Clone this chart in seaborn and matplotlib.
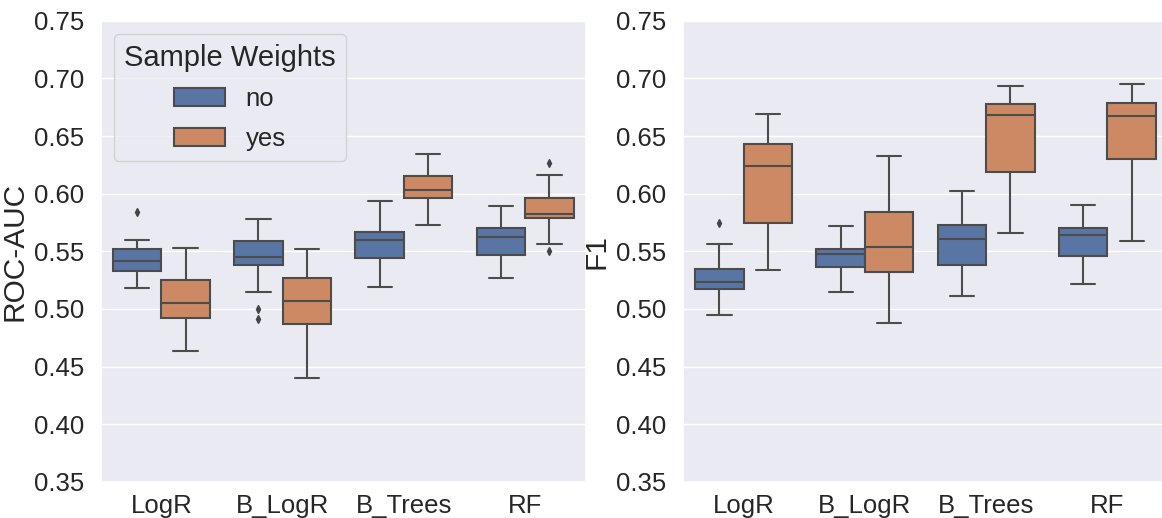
import pandas as pd
import seaborn as sns
import numpy as np
from matplotlib import pyplot as plt
from matplotlib.ticker import MultipleLocator, FormatStrFormatter

#---data (box stats: whiskers, quartiles, median, fliers)
models = ["LogR", "B_LogR", "B_Trees", "RF"]
weights = ["no", "yes"]

# ROC-AUC
roc_logr_no = [0.518, 0.527, 0.533, 0.538, 0.542, 0.547, 0.552, 0.560, 0.584]
roc_logr_yes = [0.464, 0.480, 0.492, 0.498, 0.505, 0.515, 0.525, 0.540, 0.553]
roc_blogr_no = [0.491, 0.500, 0.515, 0.538, 0.540, 0.542, 0.545, 0.550, 0.555,
                0.559, 0.565, 0.572, 0.578]
roc_blogr_yes = [0.440, 0.470, 0.487, 0.497, 0.507, 0.517, 0.527, 0.540, 0.552]
roc_btrees_no = [0.519, 0.532, 0.544, 0.552, 0.560, 0.564, 0.567, 0.580, 0.594]
roc_btrees_yes = [0.573, 0.585, 0.596, 0.600, 0.603, 0.609, 0.615, 0.625, 0.634]
roc_rf_no = [0.527, 0.537, 0.547, 0.555, 0.562, 0.566, 0.570, 0.580, 0.589]
roc_rf_yes = [0.550, 0.556, 0.579, 0.580, 0.582, 0.589, 0.596, 0.616, 0.627]

# F1
f1_logr_no = [0.495, 0.506, 0.517, 0.520, 0.523, 0.529, 0.535, 0.556, 0.575]
f1_logr_yes = [0.534, 0.555, 0.575, 0.600, 0.624, 0.634, 0.643, 0.656, 0.669]
f1_blogr_no = [0.515, 0.526, 0.536, 0.542, 0.548, 0.550, 0.552, 0.562, 0.572]
f1_blogr_yes = [0.488, 0.510, 0.532, 0.543, 0.554, 0.569, 0.584, 0.608, 0.633]
f1_btrees_no = [0.511, 0.525, 0.538, 0.550, 0.561, 0.567, 0.573, 0.588, 0.602]
f1_btrees_yes = [0.566, 0.592, 0.619, 0.645, 0.668, 0.673, 0.678, 0.686, 0.693]
f1_rf_no = [0.522, 0.534, 0.546, 0.555, 0.564, 0.567, 0.570, 0.580, 0.590]
f1_rf_yes = [0.559, 0.595, 0.630, 0.650, 0.667, 0.673, 0.679, 0.687, 0.695]

roc_groups = [[roc_logr_no, roc_logr_yes], [roc_blogr_no, roc_blogr_yes],
              [roc_btrees_no, roc_btrees_yes], [roc_rf_no, roc_rf_yes]]
f1_groups = [[f1_logr_no, f1_logr_yes], [f1_blogr_no, f1_blogr_yes],
             [f1_btrees_no, f1_btrees_yes], [f1_rf_no, f1_rf_yes]]


def to_long(groups, name):
    rows = []
    for mm, pair in zip(models, groups):
        for ww, vals in zip(weights, pair):
            for v in vals:
                rows.append({"model": mm, "Sample Weights": ww, name: v})
    return pd.DataFrame(rows)


def draw_box(ax, df, col):
    sns.boxplot(x="model", y=col, hue="Sample Weights", data=df, ax=ax,
                order=models, hue_order=weights, palette="deep",
                linewidth=1.5, fliersize=4,
                flierprops={"marker": "d", "markerfacecolor": "#444444",
                            "markeredgecolor": "#444444"})
    ax.set_xlabel("")
    ax.set_ylabel(col, fontsize=21.5)
    ax.set_ylim(0.35, 0.75)
    ax.yaxis.set_major_locator(MultipleLocator(0.05))
    ax.yaxis.set_major_formatter(FormatStrFormatter("%.2f"))
    ax.tick_params(axis="y", labelsize=18.5, pad=6)
    ax.tick_params(axis="x", labelsize=18.5, pad=2.5)


if (__name__ == "__main__"):
    sns.set_theme(style="darkgrid")
    plt.rcParams['font.family'] = ['Liberation Sans', 'DejaVu Sans']

    roc_df = to_long(roc_groups, "ROC-AUC")
    f1_df = to_long(f1_groups, "F1")

    fig = plt.figure(figsize=(11.62, 5.18), dpi=100)
    ax1 = fig.add_axes([0.0867, 0.0695, 0.4174, 0.8906])
    ax2 = fig.add_axes([0.5878, 0.0695, 0.4174, 0.8906])

    draw_box(ax1, roc_df, "ROC-AUC")
    draw_box(ax2, f1_df, "F1")

    ax1.legend(loc="upper left", title="Sample Weights", fontsize=18.5,
               title_fontsize=21, labelspacing=0.6)
    ax2.get_legend().remove()

    fig.savefig("out.png", dpi=100)
